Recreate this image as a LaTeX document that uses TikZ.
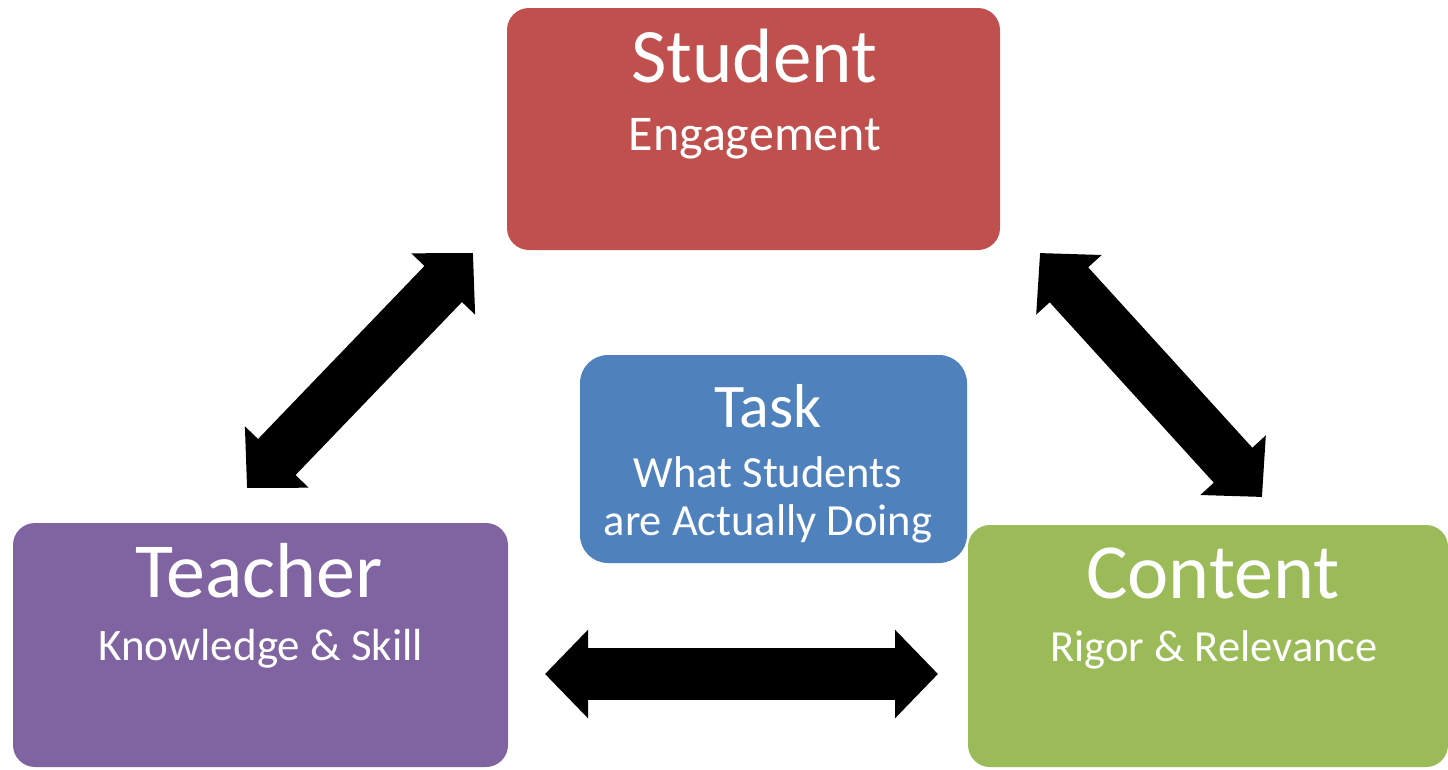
\documentclass[tikz,border=0pt]{standalone}
\usepackage{fontspec}
\setmainfont{Carlito}
\usetikzlibrary{arrows.meta}
\definecolor{cred}{HTML}{C0504D}
\definecolor{cpurple}{HTML}{8064A2}
\definecolor{cgreen}{HTML}{9BBB59}
\definecolor{cblue}{HTML}{4F81BD}
\tikzset{
  box/.style={rectangle, rounded corners=22pt, inner sep=0pt, draw=none},
  txt/.style={anchor=base, text=white, inner sep=0pt},
  dblarrow/.style={line width=52pt, draw=black,
    arrows={Triangle[width=86pt,length=43pt]-Triangle[width=86pt,length=43pt]}}
}
\newcommand{\fs}[1]{\fontsize{#1}{#1}\selectfont}
\begin{document}
\begin{tikzpicture}[x=1pt,y=-1pt]
\useasboundingbox (0,0) rectangle (1448,769);
% boxes
\node[box, fill=cred, minimum width=493pt, minimum height=242pt] (student) at (753.5,129) {};
\node[box, fill=cpurple, minimum width=495pt, minimum height=244pt] (teacher) at (260.5,645) {};
\node[box, fill=cgreen, minimum width=480pt, minimum height=242pt] (content) at (1208,646) {};
\node[box, fill=cblue, rounded corners=28pt, minimum width=387pt, minimum height=208pt] (task) at (773.5,459) {};
% texts
\node[txt, font=\fs{77}] (studentT) at (754,82) {Student};
\node[txt, font=\fs{50}] (studentS) at (755,150) {Engagement};
\node[txt, font=\fs{78}] (teacherT) at (259,597) {Teacher};
\node[txt, font=\fs{45}] (teacherS) at (261,660) {Knowledge \& Skill};
\node[txt, font=\fs{78}] (contentT) at (1213,598) {Content};
\node[txt, font=\fs{44.5}] (contentS) at (1214,661) {Rigor \& Relevance};
\node[txt, font=\fs{62}] (taskT) at (768,427) {Task};
\node[txt, font=\fs{44.5}] (taskS1) at (768,487) {What Students};
\node[txt, font=\fs{44.5}] (taskS2) at (768,535) {are Actually Doing};
% arrow ends
\coordinate (h1) at (545,674);
\coordinate (h2) at (938,674);
\coordinate (d1) at (247,488);
\coordinate (d2) at (473,253);
\coordinate (e1) at (1040,253);
\coordinate (e2) at (1262,497);
\draw[dblarrow] (h1) -- (h2);
\draw[dblarrow] (d1) -- (d2);
\draw[dblarrow] (e1) -- (e2);
\end{tikzpicture}
\end{document}
